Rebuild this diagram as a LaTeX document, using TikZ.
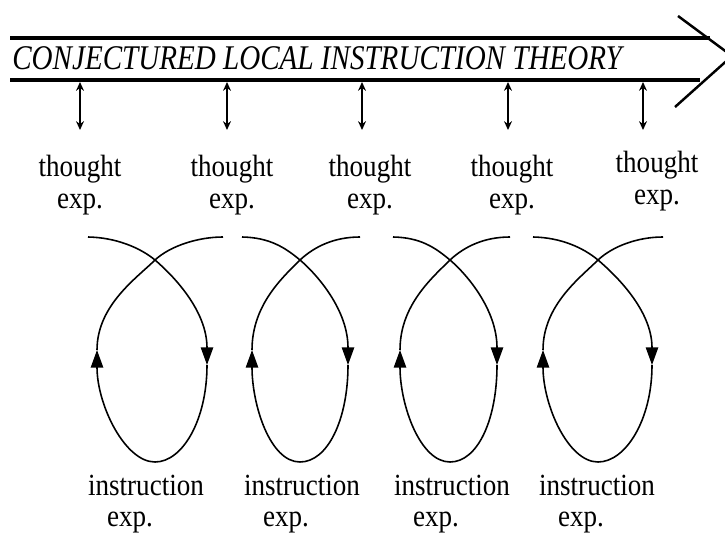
\documentclass[tikz,border=0pt]{standalone}
\usepackage{fontspec}
\usetikzlibrary{arrows.meta}
\newfontfamily\labelserif[FakeStretch=0.88]{Liberation Serif}
\newfontfamily\titleserif[FakeStretch=0.84]{Liberation Serif}
\tikzset{
  loopline/.style={black,line width=0.9pt},
  looptip/.style={-{Triangle[length=10pt,width=7pt]}},
  linkarrow/.style={black,line width=1.4pt,{Stealth[length=5pt,width=4.5pt]}-{Stealth[length=5pt,width=4.5pt]}},
  barline/.style={black,line width=2.4pt},
  explabel/.style={align=center,inner sep=0pt,
    font=\labelserif\fontsize{17.5}{18}\selectfont},
  instrlabel/.style={explabel,align=left}
}
% one experiment cycle: crossing x, left end, right end, left/right half width
\newcommand{\expcycle}[5]{%
  \begin{scope}[shift={(#1,5.48)}]
    \draw[loopline] (#2,0.46) .. controls ({#2+0.55},0.45) and (-0.3,0.25) .. (0,0);
    \draw[loopline,looptip] (0,0) .. controls (0.35,-0.3) and (#5,-1.0) .. (#5,-2.1);
    \draw[loopline,looptip] (#5,-2.1) .. controls (#5,-3.2) and (0.55,-4.04) .. (0,-4.04)
      .. controls (-0.6,-4.04) and (-#4,-2.9) .. (-#4,-1.8);
    \draw[loopline] (-#4,-1.8) .. controls (-#4,-0.9) and (-0.35,-0.35) .. (0,0)
      .. controls (0.3,0.28) and ({#3-0.5},0.46) .. (#3,0.46);
  \end{scope}}

\begin{document}
\begin{tikzpicture}[line cap=butt,line join=round]
\clip (0,0) rectangle (14.5,10.68);

% ============================ theory arrow ============================
\coordinate (HU) at (13.56,10.36);
\coordinate (HT) at (14.64,9.56);
\coordinate (HL) at (13.50,8.54);
\draw[barline] (0.20,9.92) -- (14.20,9.92);
\draw[barline] (0.20,9.08) -- (14.00,9.08);
\draw[black,line width=1.4pt] (HU) -- (HT) -- (HL);
\node[anchor=base west,inner sep=0pt,
  font=\titleserif\itshape\fontsize{19.7}{20}\selectfont] (clit) at (0.24,9.28)
  {CONJECTURED LOCAL INSTRUCTION THEORY};

% ========================== thought experiments =======================
\foreach \x [count=\i] in {1.60,4.54,7.24,10.16,12.86}{%
  \coordinate (bar\i) at (\x,9.04);
  \coordinate (foot\i) at (\x,8.08);
  \draw[linkarrow] (bar\i) -- (foot\i);}

\node[explabel] (te1) at (1.60,6.98) {thought\\exp.};
\node[explabel] (te2) at (4.64,6.98) {thought\\exp.};
\node[explabel] (te3) at (7.40,6.98) {thought\\exp.};
\node[explabel] (te4) at (10.24,6.98) {thought\\exp.};
\node[explabel] (te5) at (13.14,7.06) {thought\\exp.};

% ========================= instruction cycles =========================
\expcycle{3.10}{-1.34}{1.36}{1.16}{1.04}
\expcycle{6.00}{-1.16}{1.20}{0.96}{0.96}
\expcycle{9.00}{-1.14}{1.20}{1.00}{0.94}
\expcycle{11.96}{-1.30}{1.30}{1.10}{1.08}

\node[instrlabel] (ie1) at (2.92,0.60) {instruction\\\hspace*{0.38cm}exp.};
\node[instrlabel] (ie2) at (6.04,0.60) {instruction\\\hspace*{0.38cm}exp.};
\node[instrlabel] (ie3) at (9.04,0.60) {instruction\\\hspace*{0.38cm}exp.};
\node[instrlabel] (ie4) at (11.94,0.60) {instruction\\\hspace*{0.38cm}exp.};

\end{tikzpicture}
\end{document}
